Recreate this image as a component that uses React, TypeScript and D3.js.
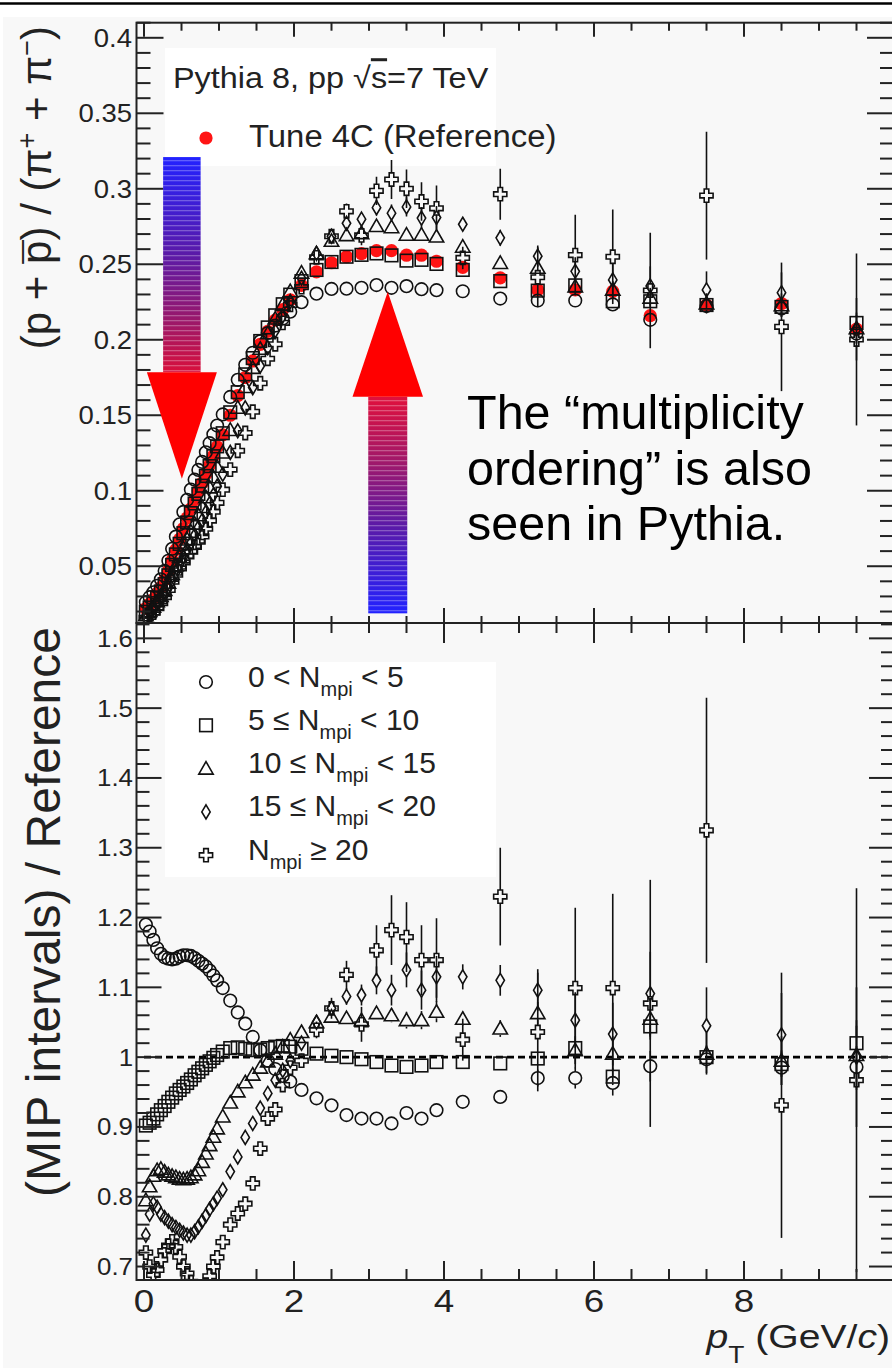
import React from "react";
import * as d3 from "d3";

const W = 892;
const H = 1368;
const FONT = "'Liberation Sans', Arial, Helvetica, sans-serif";

// pT bin centres (GeV/c)
const ptBins = [
  0.025, 0.075, 0.125, 0.175, 0.225, 0.275, 0.325, 0.375, 0.425, 0.475,
  0.525, 0.575, 0.625, 0.675, 0.725, 0.775, 0.825, 0.875, 0.925, 0.975,
  1.05, 1.15, 1.25, 1.35, 1.45, 1.55, 1.65, 1.75, 1.85, 1.95,
  2.1, 2.3, 2.5, 2.7, 2.9, 3.1, 3.3, 3.5, 3.7, 3.9,
  4.25, 4.75, 5.25, 5.75, 6.25, 6.75, 7.5, 8.5, 9.5,
];

// Tune 4C reference (p + pbar) / (pi+ + pi-)
const refTune4C = [
  0.022, 0.025, 0.028, 0.032, 0.036, 0.041, 0.047, 0.054, 0.061, 0.068,
  0.075, 0.082, 0.088, 0.094, 0.1, 0.105, 0.111, 0.117, 0.123, 0.129,
  0.137, 0.15, 0.163, 0.175, 0.186, 0.197, 0.2055, 0.213, 0.22, 0.2265,
  0.236, 0.245, 0.251, 0.255, 0.257, 0.259, 0.259, 0.256, 0.256, 0.252,
  0.248, 0.241, 0.233, 0.233, 0.232, 0.216, 0.223, 0.224, 0.207,
];

// MIP interval / reference ratios (lower pad)
const ratioMpi0to5 = [
  1.19, 1.18, 1.168, 1.156, 1.148, 1.143, 1.141, 1.14, 1.141, 1.144,
  1.146, 1.146, 1.145, 1.142, 1.138, 1.134, 1.13, 1.124, 1.117, 1.11,
  1.099, 1.081, 1.064, 1.048, 1.029, 1.01, 0.995, 0.983, 0.973, 0.965,
  0.953, 0.941, 0.931, 0.917, 0.912, 0.912, 0.905, 0.92, 0.912, 0.924,
  0.936, 0.943, 0.97, 0.97, 0.963, 0.987, 0.997, 0.985, 0.986,
];
const ratioMpi5to10 = [
  0.902, 0.906, 0.912, 0.918, 0.924, 0.93, 0.936, 0.942, 0.948, 0.953,
  0.958, 0.963, 0.968, 0.974, 0.979, 0.984, 0.989, 0.994, 0.999, 1.003,
  1.008, 1.013, 1.014, 1.012, 1.01, 1.011, 1.013, 1.015, 1.016, 1.015,
  1.012, 1.005, 1.002, 1.0, 0.997, 0.993, 0.988, 0.986, 0.988, 0.993,
  0.993, 0.991, 0.998, 1.013, 0.972, 1.044, 1.0, 0.99, 1.02,
];
const ratioMpi10to15 = [
  0.795, 0.815, 0.83, 0.838, 0.84, 0.836, 0.832, 0.83, 0.828, 0.826,
  0.825, 0.826, 0.828, 0.832, 0.838, 0.85, 0.862, 0.874, 0.886, 0.898,
  0.915, 0.935, 0.951, 0.964, 0.975, 0.985, 0.994, 1.005, 1.015, 1.025,
  1.036, 1.05, 1.058, 1.056, 1.053, 1.063, 1.06, 1.053, 1.053, 1.065,
  1.055, 1.041, 1.063, 1.01, 1.005, 1.055, 1.005, 0.995, 1.003,
];
const ratioMpi15to20 = [
  0.745, 0.775, 0.79, 0.785, 0.775, 0.77, 0.765, 0.76, 0.756, 0.752,
  0.748, 0.745, 0.745, 0.75, 0.757, 0.765, 0.773, 0.782, 0.79, 0.798,
  0.81, 0.836, 0.857, 0.885, 0.905, 0.927, 0.948, 0.967, 0.981, 0.995,
  1.02, 1.05, 1.07, 1.087, 1.089, 1.11, 1.096, 1.125, 1.096, 1.115,
  1.115, 1.11, 1.096, 1.053, 1.033, 1.091, 1.045, 1.032, 1.0,
];
const ratioMpi20up = [
  0.72, 0.7, 0.688, 0.695, 0.71, 0.722, 0.73, 0.736, 0.728, 0.714,
  0.7, 0.69, 0.678, 0.668, 0.662, 0.664, 0.674, 0.686, 0.7, 0.713,
  0.735, 0.76, 0.776, 0.79, 0.819, 0.869, 0.912, 0.925, 0.96, 0.985,
  0.995, 1.039, 1.07, 1.118, 1.047, 1.153, 1.182, 1.172, 1.139, 1.139,
  1.025, 1.23, 1.036, 1.099, 1.099, 1.077, 1.325, 0.931, 0.967,
];

// statistical errors on the ratios
const errMpi0to5 = [
  0, 0, 0, 0, 0, 0, 0, 0, 0, 0, 0, 0, 0, 0, 0, 0, 0, 0, 0, 0,
  0, 0, 0, 0, 0, 0, 0, 0, 0, 0,
  0.002, 0.003, 0.003, 0.004, 0.004, 0.005, 0.005, 0.006, 0.006, 0.007,
  0.006, 0.008, 0.012, 0.015, 0.018, 0.022, 0.02, 0.025, 0.03,
];
const errMpi5to10 = [
  0, 0, 0, 0, 0, 0, 0, 0, 0, 0, 0, 0, 0, 0, 0, 0, 0, 0, 0, 0,
  0, 0, 0, 0, 0, 0, 0, 0, 0, 0,
  0.002, 0.002, 0.003, 0.003, 0.004, 0.004, 0.005, 0.005, 0.006, 0.006,
  0.005, 0.006, 0.008, 0.01, 0.012, 0.015, 0.015, 0.018, 0.025,
];
const errMpi10to15 = [
  0, 0, 0, 0, 0, 0, 0, 0, 0, 0, 0, 0, 0, 0, 0, 0, 0, 0, 0, 0,
  0, 0, 0, 0, 0, 0, 0, 0, 0, 0,
  0.003, 0.004, 0.005, 0.006, 0.007, 0.009, 0.01, 0.012, 0.013, 0.015,
  0.01, 0.012, 0.016, 0.02, 0.025, 0.03, 0.03, 0.035, 0.05,
];
const errMpi15to20 = [
  0, 0, 0, 0, 0, 0, 0, 0, 0, 0, 0, 0, 0, 0, 0, 0, 0, 0, 0, 0,
  0.002, 0.002, 0.002, 0.002, 0.002, 0.002, 0.002, 0.002, 0.002, 0.002,
  0.005, 0.007, 0.01, 0.012, 0.015, 0.02, 0.022, 0.025, 0.028, 0.03,
  0.018, 0.022, 0.03, 0.04, 0.045, 0.06, 0.055, 0.06, 0.1,
];
const errMpi20up = [
  0, 0, 0, 0, 0, 0, 0, 0, 0, 0, 0, 0, 0, 0, 0, 0, 0, 0, 0, 0,
  0.003, 0.003, 0.004, 0.004, 0.005, 0.005, 0.006, 0.006, 0.007, 0.008,
  0.01, 0.012, 0.015, 0.02, 0.025, 0.036, 0.05, 0.05, 0.05, 0.06,
  0.03, 0.07, 0.085, 0.115, 0.135, 0.177, 0.19, 0.19, 0.275,
];

const legendLabels = [
  ["0 < N", "mpi", " < 5"],
  ["5 \u2264 N", "mpi", " < 10"],
  ["10 \u2264 N", "mpi", " < 15"],
  ["15 \u2264 N", "mpi", " < 20"],
  ["N", "mpi", " \u2265 20"],
];
const markerShapes = ["circle", "square", "triangle", "diamond", "cross"];

const xMajor = [0, 2, 4, 6, 8, 10];
const xTickLabels = ["0", "2", "4", "6", "8"];
const yTopMajor = [0.05, 0.1, 0.15, 0.2, 0.25, 0.3, 0.35, 0.4];
const yTopLabels = ["0.05", "0.1", "0.15", "0.2", "0.25", "0.3", "0.35", "0.4"];
const yBotMajor = [0.7, 0.8, 0.9, 1.0, 1.1, 1.2, 1.3, 1.4, 1.5, 1.6];
const yBotLabels = ["0.7", "0.8", "0.9", "1", "1.1", "1.2", "1.3", "1.4", "1.5", "1.6"];

const noteLines = ["The \u201cmultiplicity", "ordering\u201d is also", "seen in Pythia."];

const INK = "#111";

function Marker({ shape, x, y }: { shape: string; x: number; y: number }) {
  const st = { fill: "none", stroke: INK, strokeWidth: 1.6 };
  if (shape === "circle") return <circle cx={x} cy={y} r={6.3} {...st} />;
  if (shape === "square") return <rect x={x - 6.3} y={y - 6.3} width={12.6} height={12.6} {...st} />;
  if (shape === "triangle")
    return <path d={`M${x},${y - 7}L${x + 7.2},${y + 5.5}L${x - 7.2},${y + 5.5}Z`} {...st} />;
  if (shape === "diamond")
    return <path d={`M${x},${y - 7}L${x + 4.2},${y}L${x},${y + 7}L${x - 4.2},${y}Z`} {...st} />;
  const a = 2.3, s = 6.6;
  const pts = [
    [-a, -s], [a, -s], [a, -a], [s, -a], [s, a], [a, a],
    [a, s], [-a, s], [-a, a], [-s, a], [-s, -a], [-a, -a],
  ];
  return <path d={"M" + pts.map((p) => `${x + p[0]},${y + p[1]}`).join("L") + "Z"} {...st} />;
}

function ErrBar({ x, y, yHi, yLo, half }: { x: number; y: number; yHi: number; yLo: number; half: number }) {
  return (
    <g stroke={INK} strokeWidth={1.6}>
      {y - yHi > half && <line x1={x} x2={x} y1={yHi} y2={y - half} />}
      {yLo - y > half && <line x1={x} x2={x} y1={y + half} y2={yLo} />}
    </g>
  );
}

export default function App() {
  const xS = d3.scaleLinear().domain([-0.1, 10]).range([136.5, 894]);
  const yT = d3.scaleLinear().domain([0.0124, 0.41]).range([623, 22.7]);
  const yB = d3.scaleLinear().domain([0.6807, 1.622]).range([1280, 623]);

  const left = xS(-0.1), right = xS(10);
  const topY = yT(0.41), midY = yT(0.0124), botY = yB(0.6807);

  const series = [
    { shape: "circle", ratio: ratioMpi0to5, err: errMpi0to5 },
    { shape: "square", ratio: ratioMpi5to10, err: errMpi5to10 },
    { shape: "triangle", ratio: ratioMpi10to15, err: errMpi10to15 },
    { shape: "diamond", ratio: ratioMpi15to20, err: errMpi15to20 },
    { shape: "cross", ratio: ratioMpi20up, err: errMpi20up },
  ];

  const xMinor = d3.range(1, 20).map((k) => k / 2).filter((v) => v % 2 !== 0);
  const yTopMinor = d3.range(2, 42).map((k) => k / 100).filter((_, i) => (i + 2) % 5 !== 0);
  const yBotMinor = d3.range(35, 82).map((k) => k / 50).filter((_, i) => (i + 35) % 5 !== 0);

  const tick = (x1: number, y1: number, x2: number, y2: number, k: string) => (
    <line key={k} x1={x1} y1={y1} x2={x2} y2={y2} />
  );

  // arrow annotations, in top-pad data units
  const dn = { x: 0.505, shaft: 0.25, head: 0.467, top: 0.321, neck: 0.1785, tip: 0.108 };
  const up = { x: 3.25, shaft: 0.26, head: 0.47, bottom: 0.0188, neck: 0.1623, tip: 0.2318 };

  return (
    <svg width={W} height={H} style={{ position: "absolute", left: 0, top: 0 }} fontFamily={FONT}>
      <defs>
        <clipPath id="cTop">
          <rect x={left} y={topY} width={right - left} height={midY - topY} />
        </clipPath>
        <clipPath id="cBot">
          <rect x={left} y={midY} width={right - left} height={botY - midY} />
        </clipPath>
        <linearGradient id="gDown" x1="0" y1="0" x2="0" y2="1">
          <stop offset="0" stopColor="#2222ff" />
          <stop offset="0.45" stopColor="#5a1aa8" />
          <stop offset="0.75" stopColor="#98186c" />
          <stop offset="1" stopColor="#d8103c" />
        </linearGradient>
        <linearGradient id="gUp" x1="0" y1="0" x2="0" y2="1">
          <stop offset="0" stopColor="#e0103c" />
          <stop offset="0.3" stopColor="#a0186a" />
          <stop offset="0.6" stopColor="#5a1aa8" />
          <stop offset="1" stopColor="#2222ff" />
        </linearGradient>
        <pattern id="stripes" width="8" height="5" patternUnits="userSpaceOnUse">
          <rect x="0" y="0" width="8" height="1.3" fill="#fff" opacity="0.28" />
        </pattern>
      </defs>

      <rect x={0} y={0} width={W} height={H} fill="#fff" />
      <rect x={3} y={17} width={W} height={H} fill="#f8f8f8" />
      <line x1={0} x2={W} y1={3.5} y2={3.5} stroke="#000" strokeWidth={2.5} />

      {/* legend boxes */}
      <rect x={165} y={48} width={331} height={118} fill="#fff" />
      <rect x={165} y={662} width={331} height={215} fill="#fff" />

      {/* top pad: ratio (p+pbar)/(pi+ + pi-) */}
      <g clipPath="url(#cTop)">
        {ptBins.map((p, i) => (
          <circle key={"r" + i} cx={xS(p)} cy={yT(refTune4C[i])} r={6.6} fill="#ff1414" />
        ))}
        {series.map((s) =>
          ptBins.map((p, i) => {
            // the top pad holds the MIP interval values, i.e. reference x ratio
            const v = refTune4C[i] * s.ratio[i];
            const e = refTune4C[i] * s.err[i];
            const cx = xS(p), cy = yT(v);
            return (
              <g key={s.shape + "t" + i}>
                <ErrBar x={cx} y={cy} yHi={yT(v + e)} yLo={yT(v - e)} half={6.5} />
                <Marker shape={s.shape} x={cx} y={cy} />
              </g>
            );
          })
        )}
      </g>

      {/* bottom pad: ratio to reference */}
      <g clipPath="url(#cBot)">
        <line x1={xS(0)} x2={right} y1={yB(1)} y2={yB(1)} stroke="#000" strokeWidth={2.6} strokeDasharray="7 4" />
        {series.map((s) =>
          ptBins.map((p, i) => {
            const v = s.ratio[i], e = s.err[i];
            const cx = xS(p), cy = yB(v);
            return (
              <g key={s.shape + "b" + i}>
                <ErrBar x={cx} y={cy} yHi={yB(v + e)} yLo={yB(v - e)} half={6.5} />
                <Marker shape={s.shape} x={cx} y={cy} />
              </g>
            );
          })
        )}
      </g>

      {/* frames and ticks */}
      <g stroke="#222" strokeWidth={2} fill="none">
        <rect x={left} y={topY} width={right - left} height={midY - topY} />
        <rect x={left} y={midY} width={right - left} height={botY - midY} />
        {xMajor.map((v) => tick(xS(v), topY, xS(v), topY + 14, "tt" + v))}
        {xMinor.map((v) => tick(xS(v), topY, xS(v), topY + 8, "ttm" + v))}
        {xMajor.map((v) => tick(xS(v), midY, xS(v), midY - 15, "tb" + v))}
        {xMinor.map((v) => tick(xS(v), midY, xS(v), midY - 7, "tbm" + v))}
        {xMajor.map((v) => tick(xS(v), midY, xS(v), midY + 20, "bt" + v))}
        {xMinor.map((v) => tick(xS(v), midY, xS(v), midY + 10, "btm" + v))}
        {xMajor.map((v) => tick(xS(v), botY, xS(v), botY - 19, "bb" + v))}
        {xMinor.map((v) => tick(xS(v), botY, xS(v), botY - 11, "bbm" + v))}
        {yTopMajor.map((v) => tick(left, yT(v), left + 27, yT(v), "tl" + v))}
        {yTopMinor.map((v) => tick(left, yT(v), left + 14, yT(v), "tlm" + v))}
        {yTopMajor.map((v) => tick(right, yT(v), right - 27, yT(v), "tr" + v))}
        {yTopMinor.map((v) => tick(right, yT(v), right - 14, yT(v), "trm" + v))}
        {yBotMajor.map((v) => tick(left, yB(v), left + 25, yB(v), "bl" + v))}
        {yBotMinor.map((v) => tick(left, yB(v), left + 13, yB(v), "blm" + v))}
        {yBotMajor.map((v) => tick(right, yB(v), right - 25, yB(v), "br" + v))}
        {yBotMinor.map((v) => tick(right, yB(v), right - 13, yB(v), "brm" + v))}
      </g>

      {/* tick labels */}
      <g fill="#222">
        {yTopMajor.map((v, i) => (
          <text key={"ytl" + i} transform={`translate(132,${yT(v) + 9}) scale(1.1,1)`} textAnchor="end" fontSize={25}>
            {yTopLabels[i]}
          </text>
        ))}
        {yBotMajor.map((v, i) => (
          <text key={"ybl" + i} transform={`translate(133,${yB(v) + 8.5}) scale(1.1,1)`} textAnchor="end" fontSize={23.5}>
            {yBotLabels[i]}
          </text>
        ))}
        {xTickLabels.map((l, i) => (
          <text key={"xl" + i} transform={`translate(${xS(xMajor[i])},1312) scale(1.15,1)`} textAnchor="middle" fontSize={32}>
            {l}
          </text>
        ))}
      </g>

      {/* axis titles */}
      <text transform="translate(51,26) rotate(-90)" textAnchor="end" fontSize={42} fill="#222">
        (p + p<tspan dx={-23} dy={3}>¯</tspan>
        <tspan dy={-3}>) / (π</tspan>
        <tspan dy={-15} fontSize={27}>+</tspan>
        <tspan dy={15}> + π</tspan>
        <tspan dy={-15} fontSize={27}>−</tspan>
        <tspan dy={15}>)</tspan>
      </text>
      <text transform="translate(60,627) rotate(-90)" textAnchor="end" fontSize={48} fill="#222">
        (MIP intervals) / Reference
      </text>
      <text transform="translate(890,1348) scale(1.15,1)" textAnchor="end" fontSize={34} fill="#222">
        <tspan fontStyle="italic">p</tspan>
        <tspan dy={15} fontSize={23}>T</tspan>
        <tspan dy={-15}> (GeV/</tspan>
        <tspan fontStyle="italic">c</tspan>
        <tspan>)</tspan>
      </text>

      {/* top legend */}
      <text transform="translate(173,88) scale(1.08,1)" fontSize={30} fill="#222">
        Pythia 8, pp √<tspan textDecoration="overline">s</tspan>=7 TeV
      </text>
      <circle cx={206} cy={138} r={6.6} fill="#ff1414" />
      <text transform="translate(249,147) scale(1.06,1)" fontSize={31} fill="#222">
        Tune 4C (Reference)
      </text>

      {/* bottom legend */}
      {legendLabels.map((lab, i) => {
        const my = 682 + i * 43.3;
        return (
          <g key={"lg" + i}>
            <Marker shape={markerShapes[i]} x={206} y={my} />
            <text x={248} y={my + 4.5} fontSize={30} fill="#222">
              {lab[0]}
              <tspan dy={9} fontSize={20}>{lab[1]}</tspan>
              <tspan dy={-9}>{lab[2]}</tspan>
            </text>
          </g>
        );
      })}

      {/* annotation arrows */}
      <rect x={xS(dn.x - dn.shaft)} y={yT(dn.top)} width={xS(dn.x + dn.shaft) - xS(dn.x - dn.shaft)} height={yT(dn.neck) - yT(dn.top)} fill="url(#gDown)" />
      <rect x={xS(dn.x - dn.shaft)} y={yT(dn.top)} width={xS(dn.x + dn.shaft) - xS(dn.x - dn.shaft)} height={yT(dn.neck) - yT(dn.top)} fill="url(#stripes)" />
      <path d={`M${xS(dn.x - dn.head)},${yT(dn.neck)}L${xS(dn.x + dn.head)},${yT(dn.neck)}L${xS(dn.x)},${yT(dn.tip)}Z`} fill="#ff0000" />

      <rect x={xS(up.x - up.shaft)} y={yT(up.neck)} width={xS(up.x + up.shaft) - xS(up.x - up.shaft)} height={yT(up.bottom) - yT(up.neck)} fill="url(#gUp)" />
      <rect x={xS(up.x - up.shaft)} y={yT(up.neck)} width={xS(up.x + up.shaft) - xS(up.x - up.shaft)} height={yT(up.bottom) - yT(up.neck)} fill="url(#stripes)" />
      <path d={`M${xS(up.x - up.head)},${yT(up.neck)}L${xS(up.x + up.head)},${yT(up.neck)}L${xS(up.x)},${yT(up.tip)}Z`} fill="#ff0000" />

      {noteLines.map((l, i) => (
        <text key={"n" + i} x={467} y={429 + i * 55.5} fontSize={48.5} fill="#000">
          {l}
        </text>
      ))}
    </svg>
  );
}
